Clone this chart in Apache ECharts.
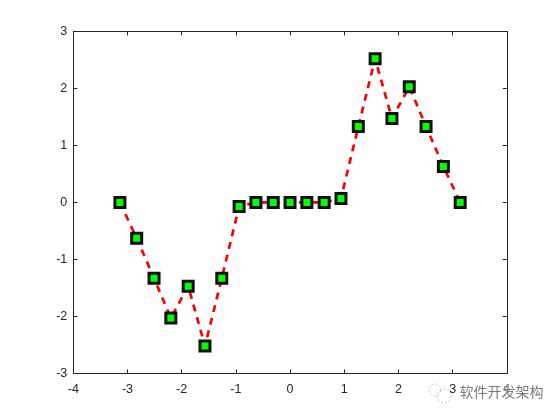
<!DOCTYPE html>
<html><head><meta charset="utf-8">
<style>html,body{margin:0;padding:0;background:#fff}#c{width:560px;height:420px}</style>
<script src="https://cdn.jsdelivr.net/npm/echarts@6/dist/echarts.min.js"></script>
</head><body><div id="c"></div>
<script>
const xValues = [-3.14,-2.83,-2.51,-2.2,-1.88,-1.57,-1.26,-0.94,-0.63,-0.31,0,0.31,0.63,0.94,1.26,1.57,1.88,2.2,2.51,2.83,3.14];
const yValues = [0,-0.63,-1.33,-2.03,-1.47,-2.52,-1.33,-0.07,0,0,0,0,0,0.07,1.33,2.52,1.47,2.03,1.33,0.63,0];
const watermark = '软件开发架构';
const ink = '#262626';
const font = '"Liberation Sans", Arial, sans-serif';
const chart = echarts.init(document.getElementById('c'), null, {renderer:'canvas'});
const axisBase = (extra) => Object.assign({
  type:'value', splitLine:{show:false}, interval:1,
  axisLine:{show:true,onZero:false,lineStyle:{color:ink,width:1}},
  axisTick:{show:true,inside:true,length:4,lineStyle:{color:ink,width:1}},
  axisLabel:{show:false}
}, extra);
const xLabels = {show:true,color:ink,fontFamily:font,fontSize:12.5,margin:10,showMinLabel:true,showMaxLabel:true,hideOverlap:false};
const yLabels = Object.assign({}, xLabels, {margin:6,padding:[2,0,0,0]});
chart.setOption({
  animation:false,
  backgroundColor:'#fff',
  grid:{left:73.3,right:53.2,top:31.4,bottom:46.6},
  xAxis:[
    axisBase({min:-4,max:4,position:'bottom',axisLabel:xLabels}),
    axisBase({min:-4,max:4,position:'top'})
  ],
  yAxis:[
    axisBase({min:-3,max:3,position:'left',axisLabel:yLabels}),
    axisBase({min:-3,max:3,position:'right'})
  ],
  series:[{
    type:'line',
    data:xValues.map((x,i)=>[x,yValues[i]]),
    lineStyle:{color:'#ff0000',width:2.7,type:[7,6]},
    symbol:'rect',symbolSize:10,
    showAllSymbol:true,
    itemStyle:{color:'#00ff00',borderColor:'#111111',borderWidth:3,opacity:1}
  }],
  graphic:[
    {type:'text',left:459,top:384,z:100,style:{text:watermark,fontSize:14,fontFamily:'"Noto Sans CJK SC"',fill:'#7a7a7a',stroke:'rgba(255,255,255,0.8)',lineWidth:1}},
    {type:'circle',shape:{cx:435,cy:390,r:6},z:100,style:{fill:'none',stroke:'#c4c4c4',lineWidth:1,lineDash:[2,2]}},
    {type:'circle',shape:{cx:444,cy:396,r:7},z:100,style:{fill:'none',stroke:'#c4c4c4',lineWidth:1,lineDash:[2,2]}}
  ]
});
</script></body></html>
